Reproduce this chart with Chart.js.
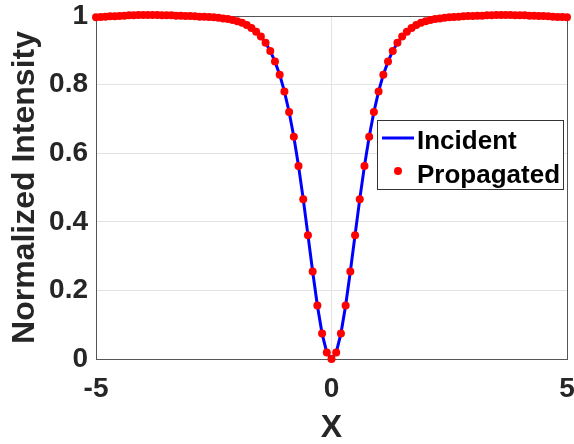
<!DOCTYPE html>
<html>
<head>
<meta charset="utf-8">
<title>Normalized Intensity</title>
<script src="https://cdn.jsdelivr.net/npm/chart.js@4.4.1/dist/chart.umd.min.js"></script>
<style>
    html, body { margin: 0; padding: 0; background: #ffffff; }
    #wrap { width: 574px; height: 444px; }
</style>
</head>
<body>
<div id="wrap"><canvas id="intensityChart" width="574" height="444"></canvas></div>
<script>
// sample positions along X
const xValues = [
    -5.0, -4.9, -4.8, -4.7, -4.6, -4.5, -4.4, -4.3, -4.2, -4.1,
    -4.0, -3.9, -3.8, -3.7, -3.6, -3.5, -3.4, -3.3, -3.2, -3.1,
    -3.0, -2.9, -2.8, -2.7, -2.6, -2.5, -2.4, -2.3, -2.2, -2.1,
    -2.0, -1.9, -1.8, -1.7, -1.6, -1.5, -1.4, -1.3, -1.2, -1.1,
    -1.0, -0.9, -0.8, -0.7, -0.6, -0.5, -0.4, -0.3, -0.2, -0.1,
    0.0,
    0.1, 0.2, 0.3, 0.4, 0.5, 0.6, 0.7, 0.8, 0.9, 1.0,
    1.1, 1.2, 1.3, 1.4, 1.5, 1.6, 1.7, 1.8, 1.9, 2.0,
    2.1, 2.2, 2.3, 2.4, 2.5, 2.6, 2.7, 2.8, 2.9, 3.0,
    3.1, 3.2, 3.3, 3.4, 3.5, 3.6, 3.7, 3.8, 3.9, 4.0,
    4.1, 4.2, 4.3, 4.4, 4.5, 4.6, 4.7, 4.8, 4.9, 5.0
];

const incident = [
    1.000, 1.000, 1.000, 1.000, 1.000, 1.000, 1.000, 1.000, 1.000, 1.000,
    1.000, 1.000, 1.000, 1.000, 1.000, 1.000, 1.000, 0.999, 0.999, 0.999,
    0.999, 0.999, 0.998, 0.998, 0.997, 0.996, 0.995, 0.993, 0.991, 0.988,
    0.985, 0.980, 0.974, 0.965, 0.954, 0.940, 0.922, 0.898, 0.867, 0.829,
    0.780, 0.720, 0.648, 0.563, 0.466, 0.361, 0.255, 0.156, 0.074, 0.019,
    0.000,
    0.019, 0.074, 0.156, 0.255, 0.361, 0.466, 0.563, 0.648, 0.720, 0.780,
    0.829, 0.867, 0.898, 0.922, 0.940, 0.954, 0.965, 0.974, 0.980, 0.985,
    0.988, 0.991, 0.993, 0.995, 0.996, 0.997, 0.998, 0.998, 0.999, 0.999,
    0.999, 0.999, 0.999, 1.000, 1.000, 1.000, 1.000, 1.000, 1.000, 1.000,
    1.000, 1.000, 1.000, 1.000, 1.000, 1.000, 1.000, 1.000, 1.000, 1.000
];

const propagated = [
    0.996, 0.997, 0.998, 0.999, 0.999, 1.000, 1.001, 1.002, 1.002, 1.003,
    1.003, 1.003, 1.003, 1.003, 1.002, 1.002, 1.002, 1.001, 1.001, 1.000,
    1.000, 0.999, 0.998, 0.998, 0.997, 0.996, 0.995, 0.993, 0.991, 0.988,
    0.985, 0.980, 0.974, 0.965, 0.954, 0.940, 0.922, 0.898, 0.867, 0.829,
    0.780, 0.720, 0.648, 0.563, 0.466, 0.361, 0.255, 0.156, 0.074, 0.019,
    0.000,
    0.019, 0.074, 0.156, 0.255, 0.361, 0.466, 0.563, 0.648, 0.720, 0.780,
    0.829, 0.867, 0.898, 0.922, 0.940, 0.954, 0.965, 0.974, 0.980, 0.985,
    0.988, 0.991, 0.993, 0.995, 0.996, 0.997, 0.998, 0.999, 1.000, 1.000,
    1.001, 1.001, 1.002, 1.002, 1.003, 1.003, 1.003, 1.003, 1.002, 1.002,
    1.002, 1.001, 1.001, 1.000, 1.000, 0.999, 0.998, 0.997, 0.997, 0.996
];

const xTickLabels = ["-5", "0", "5"];
const yTickLabels = ["0", "0.2", "0.4", "0.6", "0.8", "1"];

const FONT = "'Liberation Sans', Arial, sans-serif";
const TEXT_COLOR = "#262626";
const AXIS_COLOR = "#555555";
const GRID_COLOR = "#e3e3e3";

// full box around the axes (MATLAB style), drawn under the data
const boxPlugin = {
    id: "axesBox",
    beforeDatasetsDraw(chart) {
        const { ctx, chartArea: a } = chart;
        ctx.save();
        ctx.strokeStyle = AXIS_COLOR;
        ctx.lineWidth = 1;
        ctx.strokeRect(a.left + 0.5, a.top + 0.5, a.right - a.left, a.bottom - a.top);
        ctx.restore();
    }
};

// legend box sitting inside the plot, right side
const insideLegend = {
    id: "insideLegend",
    afterDatasetsDraw(chart) {
        const { ctx, chartArea: a } = chart;
        const ds = chart.data.datasets;
        const lineSet = ds.find(d => d.showLine !== false);
        const dotSet = ds.find(d => d.showLine === false);
        const boxRight = a.right - 4;
        const boxLeft = boxRight - 186;
        const boxTop = a.top + 104;
        const boxH = 69;

        ctx.save();
        ctx.fillStyle = "#ffffff";
        ctx.fillRect(boxLeft, boxTop, boxRight - boxLeft, boxH);
        ctx.strokeStyle = "#333333";
        ctx.lineWidth = 1;
        ctx.strokeRect(boxLeft + 0.5, boxTop + 0.5, boxRight - boxLeft, boxH);

        // line entry
        ctx.strokeStyle = lineSet.borderColor;
        ctx.lineWidth = 3;
        ctx.beginPath();
        ctx.moveTo(boxLeft + 5, boxTop + 18);
        ctx.lineTo(boxLeft + 37, boxTop + 18);
        ctx.stroke();

        // marker entry
        ctx.fillStyle = dotSet.backgroundColor;
        ctx.beginPath();
        ctx.arc(boxLeft + 21, boxTop + 51, 4, 0, Math.PI * 2);
        ctx.fill();

        ctx.fillStyle = "#000000";
        ctx.font = "bold 26px " + FONT;
        ctx.textAlign = "left";
        ctx.textBaseline = "alphabetic";
        ctx.fillText(lineSet.label, boxLeft + 40, boxTop + 29);
        ctx.fillText(dotSet.label, boxLeft + 40, boxTop + 63);
        ctx.restore();
    }
};

const ctx = document.getElementById("intensityChart").getContext("2d");

new Chart(ctx, {
    type: "line",
    data: {
        datasets: [
            {
                label: "Incident",
                data: xValues.map((x, i) => ({ x: x, y: incident[i] })),
                borderColor: "#0000ff",
                borderWidth: 3,
                pointRadius: 0,
                tension: 0,
                fill: false,
                clip: false,
                order: 2
            },
            {
                label: "Propagated",
                data: xValues.map((x, i) => ({ x: x, y: propagated[i] })),
                showLine: false,
                backgroundColor: "#ff0000",
                borderColor: "#ff0000",
                borderWidth: 0,
                pointRadius: 4,
                pointHoverRadius: 4,
                clip: false,
                order: 1
            }
        ]
    },
    options: {
        responsive: false,
        animation: false,
        devicePixelRatio: 1,
        layout: {
            padding: { left: 0, right: 7, top: 16, bottom: 0 }
        },
        plugins: {
            legend: { display: false },
            tooltip: { enabled: false }
        },
        scales: {
            x: {
                type: "linear",
                min: -5,
                max: 5,
                afterBuildTicks: axis => {
                    axis.ticks = xTickLabels.map(v => ({ value: Number(v) }));
                },
                afterFit: axis => {
                    axis.height = 85;
                    axis.paddingLeft = 0;
                    axis.paddingRight = 0;
                },
                ticks: {
                    color: TEXT_COLOR,
                    font: { family: FONT, size: 28, weight: "bold" },
                    padding: 13,
                    maxRotation: 0,
                    callback: v => xTickLabels.find(t => Number(t) === v)
                },
                grid: {
                    color: GRID_COLOR,
                    drawTicks: false
                },
                border: { color: AXIS_COLOR },
                title: {
                    display: true,
                    text: "X",
                    color: TEXT_COLOR,
                    font: { family: FONT, size: 32, weight: "bold", lineHeight: 1 },
                    padding: { top: 0, bottom: 0 }
                }
            },
            y: {
                min: 0,
                max: 1,
                afterBuildTicks: axis => {
                    axis.ticks = yTickLabels.map(v => ({ value: Number(v) }));
                },
                afterFit: axis => {
                    axis.width = 96;
                    axis.paddingTop = 0;
                    axis.paddingBottom = 0;
                },
                ticks: {
                    color: TEXT_COLOR,
                    font: { family: FONT, size: 28, weight: "bold" },
                    padding: 8,
                    callback: v => yTickLabels.find(t => Number(t) === v)
                },
                grid: {
                    color: GRID_COLOR,
                    drawTicks: false
                },
                border: { color: AXIS_COLOR },
                title: {
                    display: true,
                    text: "Normalized Intensity",
                    color: TEXT_COLOR,
                    font: { family: FONT, size: 32, weight: "bold", lineHeight: 1 },
                    padding: { top: 9, bottom: 0 }
                }
            }
        }
    },
    plugins: [boxPlugin, insideLegend]
});
</script>
</body>
</html>
